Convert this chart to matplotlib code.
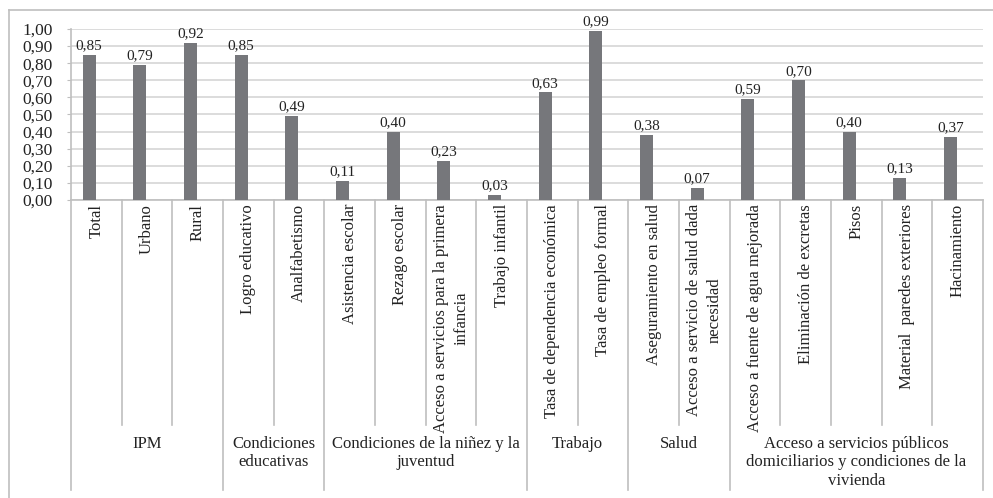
import matplotlib.pyplot as plt
from matplotlib.lines import Line2D
import matplotlib.transforms as mtransforms

# datos
categorias = ['Total', 'Urbano', 'Rural', 'Logro educativo', 'Analfabetismo',
              'Asistencia escolar', 'Rezago escolar',
              'Acceso a servicios para la primera\ninfancia', 'Trabajo infantil',
              'Tasa de dependencia económica', 'Tasa de empleo formal',
              'Aseguramiento en salud', 'Acceso a servicio de salud dada\nnecesidad',
              'Acceso a fuente de agua mejorada', 'Eliminación de excretas',
              'Pisos', 'Material  paredes exteriores', 'Hacinamiento']
valores = [0.85, 0.79, 0.92, 0.85, 0.49, 0.11, 0.40, 0.23, 0.03,
           0.63, 0.99, 0.38, 0.07, 0.59, 0.70, 0.40, 0.13, 0.37]
grupos = ['IPM', 'Condiciones\neducativas', 'Condiciones de la niñez y la\njuventud',
          'Trabajo', 'Salud',
          'Acceso a servicios públicos\ndomiciliarios y condiciones de la\nvivienda']
grupo_tam = [3, 2, 4, 2, 2, 5]
y_ticks = [i / 10 for i in range(11)]

W, H = 993, 498
plt.rcParams['font.family'] = ['Liberation Serif', 'DejaVu Serif']
fig = plt.figure(figsize=(W / 100, H / 100), dpi=100, facecolor='white')

def fx(px):
    return px / W

def fy(py):
    return 1 - py / H

ax = fig.add_axes([fx(71), fy(200), fx(983) - fx(71), fy(29) - fy(200)])

gris_barra = '#76777b'
gris_linea = '#d9d9d9'
gris_borde = '#bfbfbf'
texto = '#222222'

x = list(range(len(valores)))
# las barras de Excel quedan algo corridas a la izquierda del centro
desplazamiento = -0.14
xb = [xi + desplazamiento for xi in x]
ax.bar(xb, valores, width=0.26, color=gris_barra, zorder=3)
for xi, v in zip(xb, valores):
    ax.text(xi, v + 0.015, ('%.2f' % v).replace('.', ','), ha='center', va='bottom',
            fontsize=11, color=texto)

ax.set_xlim(-0.5, len(valores) - 0.5)
ax.set_ylim(0, 1)
ax.set_yticks(y_ticks)
ax.set_yticklabels([('%.2f' % t).replace('.', ',') for t in y_ticks], fontsize=12.5, color=texto)
ax.yaxis.grid(True, color=gris_linea, linewidth=1.3, zorder=0)
ax.tick_params(axis='y', length=3, color=gris_borde, pad=10)
ax.tick_params(axis='x', length=0, labelbottom=False)
for s in ['top', 'right']:
    ax.spines[s].set_visible(False)
ax.spines['left'].set_color(gris_borde)
ax.spines['bottom'].set_color(gris_borde)
ax.spines['left'].set_linewidth(1.2)
ax.spines['bottom'].set_linewidth(1.2)

# ejes de categorias (dos niveles)
trans = mtransforms.blended_transform_factory(ax.transData, fig.transFigure)
y_cat = fy(425)
y_grp = fy(490)
y_ax = fy(200)

for xi, cat in zip(x, categorias):
    ax.text(xi, fy(204), cat, rotation=90, ha='center', va='top', transform=trans,
            fontsize=12, color=texto, multialignment='center', linespacing=1.4)

# separadores
limites_grupo = [0]
for t in grupo_tam:
    limites_grupo.append(limites_grupo[-1] + t)
for b in range(len(valores) + 1):
    y_fin = y_grp if b in limites_grupo else y_cat
    ax.add_line(Line2D([b - 0.5, b - 0.5], [y_ax, y_fin], transform=trans,
                       color=gris_borde, linewidth=1.2, clip_on=False))

for i, g in enumerate(grupos):
    centro = (limites_grupo[i] + limites_grupo[i + 1]) / 2 - 0.5
    ax.text(centro, fy(436), g, ha='center', va='top', transform=trans,
            fontsize=12, color=texto, multialignment='center', linespacing=1.2)

# borde exterior
fig.add_artist(Line2D([fx(9), 1.0], [fy(10), fy(10)], color=gris_borde, linewidth=1.2))
fig.add_artist(Line2D([fx(9), fx(9)], [fy(10), 0.0], color=gris_borde, linewidth=1.2))

fig.savefig('out.png', dpi=100)
